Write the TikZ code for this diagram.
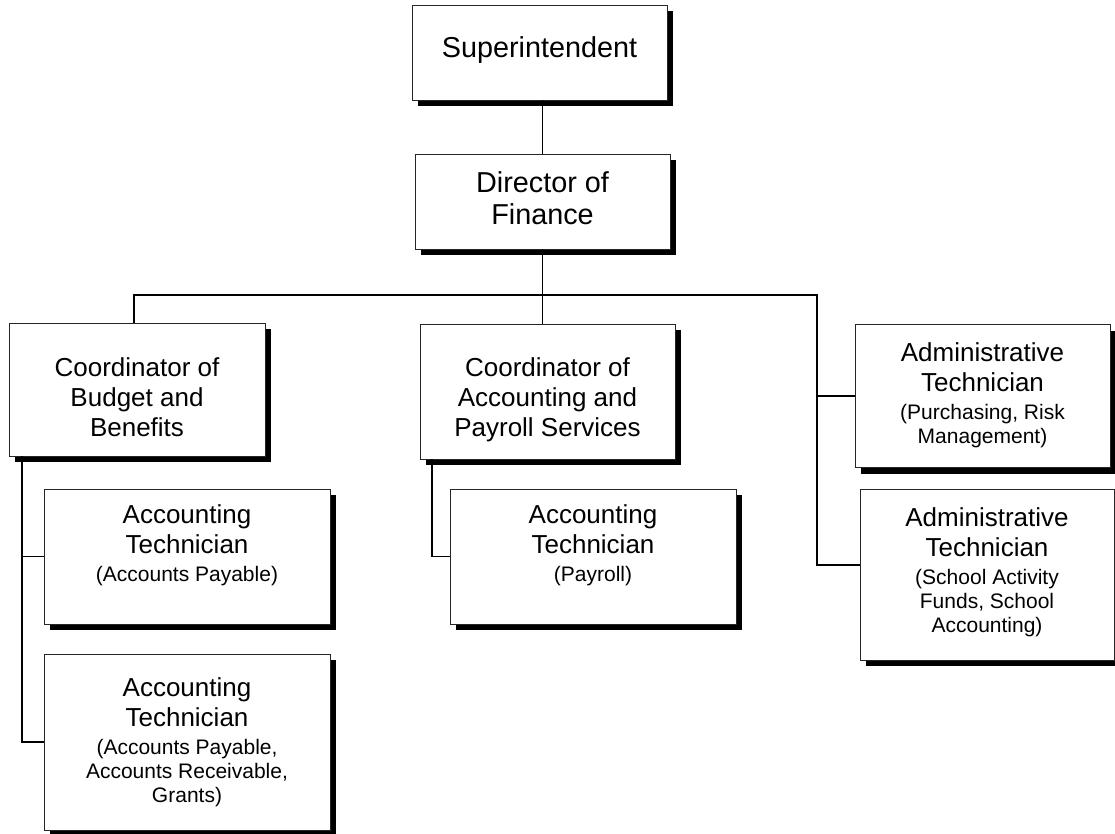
\documentclass[tikz,border=0pt]{standalone}
\usepackage{fontspec}
\setmainfont{Liberation Sans}
\usetikzlibrary{shadows}
\newcommand\mainsz{\fontsize{26}{30}\selectfont}
\newcommand\topsz{\fontsize{28.8}{32}\selectfont}
\newcommand\subsz{\fontsize{21}{24}\selectfont}
\begin{document}
\begin{tikzpicture}[x=1pt,y=-1pt,
  orgbox/.style={draw=black!85, line width=0.9pt, fill=white, rectangle,
    inner sep=0pt,
    drop shadow={shadow xshift=6pt, shadow yshift=-6pt, fill=black, opacity=1}},
  txt/.style={align=center, inner sep=0pt, font=\mainsz},
  toptxt/.style={align=center, inner sep=0pt, font=\topsz},
  link/.style={draw=black, line width=1.3pt}]
\useasboundingbox (0,0) rectangle (1115,833);

% boxes
\node[orgbox, minimum width=255pt, minimum height=95pt]  (sup) at (539.5,52.5) {};
\node[orgbox, minimum width=255pt, minimum height=95pt]  (dir) at (542.5,201.5) {};
\node[orgbox, minimum width=256pt, minimum height=133pt] (cb)  at (137,389.5) {};
\node[orgbox, minimum width=255pt, minimum height=135pt] (cap) at (547.5,391.5) {};
\node[orgbox, minimum width=286pt, minimum height=135pt] (at1) at (187,556.5) {};
\node[orgbox, minimum width=286pt, minimum height=176pt] (at2) at (187,742) {};
\node[orgbox, minimum width=286pt, minimum height=135pt] (atp) at (593,556.5) {};
\node[orgbox, minimum width=255pt, minimum height=143pt] (ad1) at (982.5,396) {};
\node[orgbox, minimum width=254pt, minimum height=171pt] (ad2) at (987,574.5) {};

% box texts
\node[toptxt] (sup-t) at ([yshift=2pt]sup.center) {Superintendent};
\node[toptxt] (dir-t) at ([yshift=3pt]dir.center) {Director of\\Finance};
\node[txt] (cb-t)  at ([yshift=-8pt]cb.center) {Coordinator of\\Budget and\\Benefits};
\node[txt] (cap-t) at ([yshift=-8.75pt]cap.center) {Coordinator of\\Accounting and\\Payroll Services};
\node[txt] (at1-t) at ([yshift=11pt]at1.center)
  {Accounting\\Technician\\[-2pt]\subsz (Accounts Payable)};
\node[txt] (at2-t) at ([yshift=-0.7pt]at2.center)
  {Accounting\\Technician\\[-2pt]\subsz (Accounts Payable,\\[-6pt]\subsz Accounts Receivable,\\[-6pt]\subsz Grants)};
\node[txt] (atp-t) at ([yshift=11pt]atp.center)
  {Accounting\\Technician\\[-2pt]\subsz (Payroll)};
\node[txt] (ad1-t) at ([yshift=0.8pt]ad1.center)
  {Administrative\\Technician\\[-2pt]\subsz (Purchasing, Risk\\[-6pt]\subsz Management)};
\node[txt] (ad2-t) at ([yshift=2.3pt]ad2.center)
  {Administrative\\Technician\\[-2pt]\subsz (School Activity\\[-6pt]\subsz Funds, School\\[-6pt]\subsz Accounting)};

% connector routing points
\coordinate (busL) at (134,295);
\coordinate (busR) at (817,295);
\coordinate (spineL) at (22,0);
\coordinate (spineM) at (432,0);
\coordinate (ad2in) at (860,565);

% connectors
\draw[link] (sup.south -| dir.north) -- (dir.north);
\draw[link] (dir.south) -- (cap.north -| dir.south);
\draw[link] (cb.north -| busL) -- (busL) -- (busR) -- (busR |- ad2in) -- (ad2in);
\draw[link] (busR |- ad1.west) -- (ad1.west);
\draw[link] (cb.south -| spineL) -- (at2.west -| spineL) -- (at2.west);
\draw[link] (at1.west -| spineL) -- (at1.west);
\draw[link] (cap.south -| spineM) -- (atp.west -| spineM) -- (atp.west);
\end{tikzpicture}
\end{document}
